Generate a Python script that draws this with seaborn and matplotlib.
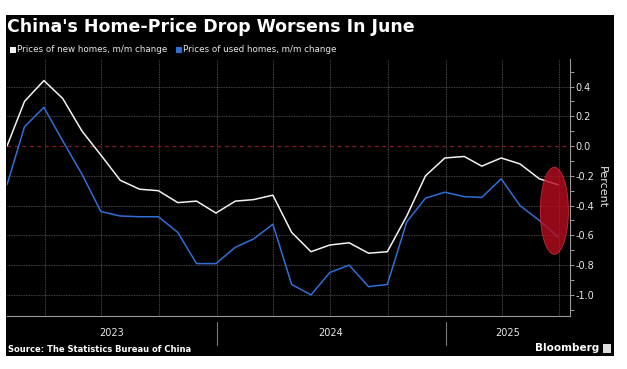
import numpy as np
import pandas as pd
import matplotlib
matplotlib.use("Agg")
import matplotlib.pyplot as plt
import matplotlib.dates as mdates
import matplotlib.transforms as mtransforms
from matplotlib.patches import Ellipse, Rectangle
from matplotlib.ticker import FixedLocator, FuncFormatter, MultipleLocator
import seaborn as sns

# ---------------- data ----------------
months = pd.date_range("2023-01-31", periods=30, freq="ME")
new_homes = [0.00, 0.30, 0.44, 0.32, 0.10, -0.06, -0.23, -0.29, -0.30, -0.38, -0.37, -0.45,
             -0.37, -0.36, -0.33, -0.58, -0.71, -0.665, -0.65, -0.72, -0.71, -0.47, -0.20, -0.08,
             -0.07, -0.135, -0.08, -0.12, -0.22, -0.26]
used_homes = [-0.26, 0.13, 0.26, 0.035, -0.19, -0.44, -0.47, -0.475, -0.475, -0.58, -0.79, -0.79,
              -0.68, -0.625, -0.525, -0.93, -1.00, -0.85, -0.80, -0.945, -0.93, -0.51, -0.35, -0.31,
              -0.34, -0.345, -0.22, -0.40, -0.50, -0.61]
year_labels = ["2023", "2024", "2025"]
ytick_values = [0.4, 0.2, 0.0, -0.2, -0.4, -0.6, -0.8, -1.0]
title = "China's Home-Price Drop Worsens In June"
legend_labels = ["Prices of new homes, m/m change", "Prices of used homes, m/m change"]
source = "Source: The Statistics Bureau of China"

df = pd.DataFrame({"date": months, "new": new_homes, "used": used_homes})

# ---------------- style ----------------
sns.set_style("dark")
plt.rcParams["font.family"] = ["DejaVu Sans"]
WHITE = "#f2f2f2"
BLUE = "#2f6fd6"
GRID = "#5c5c5c"
AXIS = "#9a9a9a"

W, H = 627, 369
fig = plt.figure(figsize=(W / 100, H / 100), dpi=100, facecolor="white")
fig.patches.append(Rectangle((6 / W, 1 - 356 / H), (614 - 6) / W, (356 - 15) / H,
                             transform=fig.transFigure, facecolor="black",
                             edgecolor="none", zorder=-5))

ax = fig.add_axes([7 / W, 1 - 316 / H, (570 - 7) / W, (316 - 59) / H])
ax.set_facecolor("black")

sns.lineplot(data=df, x="date", y="new", ax=ax, color=WHITE, lw=1.1, zorder=4)
sns.lineplot(data=df, x="date", y="used", ax=ax, color=BLUE, lw=1.1, zorder=3)

x0 = mdates.date2num(months[0])
x1 = mdates.date2num(months[-1]) + 19
ax.set_xlim(x0, x1)
ax.set_ylim(-1.142, 0.585)

# grid
for v in ytick_values:
    if v != 0.0:
        ax.axhline(v, color=GRID, lw=0.6, ls=(0, (1, 1)), zorder=1)
ax.axhline(0.0, color="#8a1a26", lw=0.9, ls=(0, (3, 3)), zorder=1)

ax.xaxis.set_major_locator(mdates.MonthLocator(bymonth=[1, 4, 7, 10]))
ax.xaxis.set_minor_locator(mdates.MonthLocator())
ax.xaxis.grid(True, which="major", color=GRID, lw=0.6, ls=(0, (1, 1)))
ax.yaxis.grid(False)
ax.set_xticklabels([])
ax.tick_params(axis="x", which="both", direction="out", length=3, color=AXIS, width=0.7,
               labelbottom=False)

ax.yaxis.tick_right()
ax.yaxis.set_major_locator(FixedLocator(ytick_values))
ax.yaxis.set_minor_locator(MultipleLocator(0.1))
ax.yaxis.set_major_formatter(FuncFormatter(lambda v, p: f"{round(v, 1) + 0.0:.1f}"))
ax.tick_params(axis="y", which="both", direction="out", length=3, color=AXIS, width=0.7,
               labelcolor="#e8e8e8", labelsize=7, pad=1)
ax.yaxis.set_label_position("right")
ax.set_ylabel("Percent", rotation=-90, color="#e8e8e8", fontsize=8, labelpad=9)
ax.set_xlabel("")

for s in ["left", "top"]:
    ax.spines[s].set_visible(False)
for s in ["right", "bottom"]:
    ax.spines[s].set_visible(True)
    ax.spines[s].set_color(AXIS)
    ax.spines[s].set_linewidth(0.8)

# highlight ellipse around the latest readings
cx = mdates.date2num(months[-1]) - 6
cy = (new_homes[-1] + used_homes[-1]) / 2
ax.add_patch(Ellipse((cx, cy), 45, 0.585, facecolor=(0.72, 0.05, 0.12), alpha=0.8,
                     edgecolor=(0.85, 0.2, 0.25), lw=0.6, zorder=5))

# year labels and separators
trans = mtransforms.blended_transform_factory(ax.transData, ax.transAxes)
bounds = [x0] + [mdates.date2num(pd.Timestamp(f"{y}-01-01")) for y in year_labels[1:]] + [x1]
for i, lab in enumerate(year_labels):
    ax.text((bounds[i] + bounds[i + 1]) / 2, -0.068, lab, transform=trans, ha="center",
            va="center", color="#e8e8e8", fontsize=7)
for b in bounds[1:-1]:
    ax.plot([b, b], [-0.023, -0.113], transform=trans, color="#777777", lw=0.8, clip_on=False)

# title, legend, source
fig.text(7 / W, 1 - 27 / H, title, color="white", fontsize=12.5, weight="bold", va="center")
fig.patches.append(Rectangle((10 / W, 1 - 53 / H), 6 / W, 6 / H, transform=fig.transFigure,
                             facecolor=WHITE, edgecolor="none", zorder=3))
fig.text(17 / W, 1 - 50 / H, legend_labels[0], color="#e8e8e8", fontsize=6.3, va="center")
fig.patches.append(Rectangle((176 / W, 1 - 53 / H), 6 / W, 6 / H, transform=fig.transFigure,
                             facecolor=BLUE, edgecolor="none", zorder=3))
fig.text(183 / W, 1 - 50 / H, legend_labels[1], color="#e8e8e8", fontsize=6.3, va="center")
fig.text(8 / W, 1 - 349 / H, source, color="white", fontsize=6, weight="bold", va="center")
fig.text(599 / W, 1 - 348 / H, "Bloomberg", color="white", fontsize=7.5, weight="bold",
         va="center", ha="right")
fig.patches.append(Rectangle((603 / W, 1 - 353 / H), 8 / W, 9 / H, transform=fig.transFigure,
                             facecolor="#dddddd", edgecolor="none", zorder=3))

fig.savefig("out.png", dpi=100, facecolor="white")
